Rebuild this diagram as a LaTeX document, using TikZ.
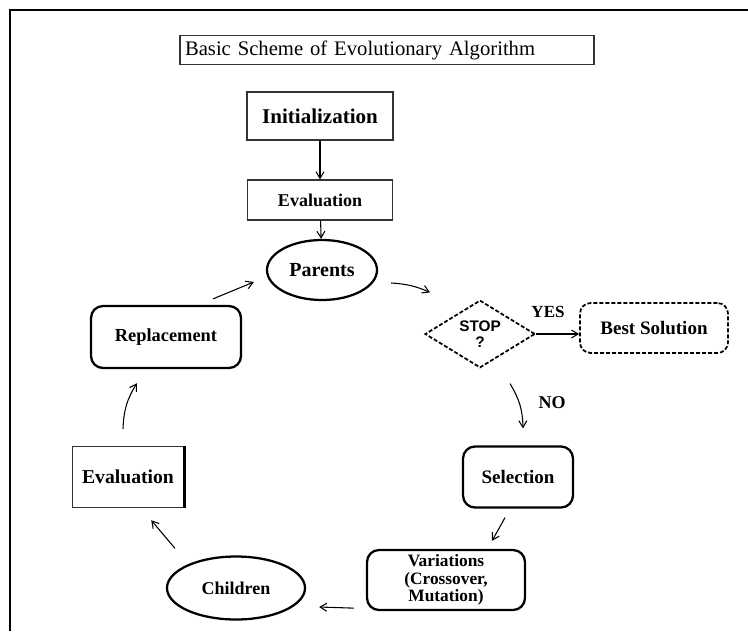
\documentclass[tikz,border=0pt]{standalone}
\usepackage{fontspec}
\setmainfont{Liberation Serif}
\newfontfamily\labsans{Liberation Sans}
\usetikzlibrary{shapes.geometric,arrows.meta,calc}
\newcommand\myfs[1]{\fontsize{#1}{#1}\selectfont}
\begin{document}
\begin{tikzpicture}[x=0.75pt,y=-0.75pt,
  sz/.style 2 args={minimum width=#1*0.75pt, minimum height=#2*0.75pt},
  thinbox/.style={draw=black!80, line width=0.9pt, rectangle, inner sep=0pt, font=\bfseries},
  roundbox/.style={draw=black, line width=1.7pt, rectangle, rounded corners=9pt, inner sep=0pt, font=\bfseries},
  oval/.style={draw=black, line width=1.7pt, ellipse, inner sep=0pt, font=\bfseries},
  dashbox/.style={draw=black, line width=1.3pt, dash pattern=on 3pt off 1.5pt},
  arr/.style={-{Straight Barb[length=5pt,width=6pt]}, line width=0.8pt},
  lab/.style={font=\bfseries\myfs{13.5}, inner sep=0pt}
]
\useasboundingbox (0,0) rectangle (748,631);
\draw[line width=1.3pt] (10,631) -- (10,10) -- (748,10);

\node[draw=black!80, line width=0.8pt, rectangle, inner sep=3.75pt, text width=303pt, align=left, minimum height=19.5pt, font=\myfs{15.5}] (title) at (387,50) {Basic Scheme of Evolutionary Algorithm};

\node[thinbox, sz={146}{48}, font=\bfseries\myfs{15.75}] (init) at (320,116) {Initialization};
\node[thinbox, sz={145}{40}, font=\bfseries\myfs{13.5}] (eval1) at (320,200) {Evaluation};
\node[oval, sz={110}{60}, font=\bfseries\myfs{15}] (parents) at (322,270) {Parents};

\node[diamond, dashbox, sz={110}{60}, inner sep=0pt, align=center, font=\labsans\bfseries\myfs{11.5}] (stop) at (480,334) {STOP\\?};
\node[rectangle, rounded corners=8pt, dashbox, sz={148}{50}, inner sep=0pt, font=\bfseries\myfs{14.25}] (best) at (654,328) {Best Solution};

\node[roundbox, sz={110}{61}, font=\bfseries\myfs{14.25}] (sel) at (518,477) {Selection};
\node[roundbox, sz={158}{60}, align=center, font=\bfseries\myfs{13}] (var) at (446,580) {Variations\\(Crossover,\\Mutation)};
\node[oval, sz={138}{63}, font=\bfseries\myfs{13.5}] (child) at (236,588) {Children};
\node[thinbox, line width=1.1pt, sz={111}{61}, font=\bfseries\myfs{14.75}] (eval2) at (128,477) {Evaluation};
\draw[line width=2.2pt] (eval2.north east) -- (eval2.south east);
\node[roundbox, sz={150}{62}, font=\bfseries\myfs{13.8}] (repl) at (166,337) {Replacement};

\node[lab, font=\bfseries\myfs{12.75}] (yes) at (548,312) {YES};
\node[lab] (no) at (552,403) {NO};

\draw[arr] (init) -- (eval1);
\draw[arr] (eval1) -- (parents);
\draw[arr] ([shift={(13,13)}]parents.east) to[bend left=10] ([shift={(-50,-7)}]stop.north);
\draw[arr] (stop.east) -- (stop.east -| best.west);
\draw[arr] ([shift={(30,15)}]stop.south) to[bend left=15] ([shift={(5,-17)}]sel.north);
\draw[arr] ([shift={(-13,9)}]sel.south) -- ([shift={(46,-8)}]var.north);
\draw[arr] ([shift={(-12,-3)}]var.south west) -- ([shift={(13,19)}]child.east);
\draw[arr] ([shift={(-61,-7)}]child.north) -- ([shift={(-33,12)}]eval2.south east);
\draw[arr] ([shift={(-5,-17)}]eval2.north) to[bend left=15] ([shift={(-29,14)}]repl.south);
\draw[arr] ([shift={(47,-6)}]repl.north) -- ([shift={(-12,12)}]parents.west);
\end{tikzpicture}
\end{document}
